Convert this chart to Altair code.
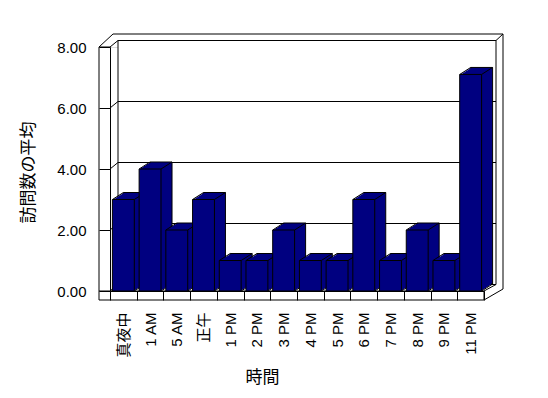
import altair as alt
import pandas as pd

# ---- data ----
categories = ["真夜中", "1 AM", "5 AM", "正午", "1 PM", "2 PM", "3 PM", "4 PM",
              "5 PM", "6 PM", "7 PM", "8 PM", "9 PM", "11 PM"]
values = [3, 4, 2, 3, 1, 1, 2, 1, 1, 3, 1, 2, 1, 7.1]
y_ticks = [0, 2, 4, 6, 8]

df = pd.DataFrame({"時間": categories, "訪問数の平均": values})
grid_df = pd.DataFrame({"訪問数の平均": y_ticks})
one = pd.DataFrame({"a": [0]})

# ---- layout / style ----
W, H = 374, 244
NAVY = "#000080"
FONT = "Liberation Sans, Noto Sans CJK JP"
BAND = 0.82
STEP = W / len(categories)
HW = BAND * STEP / 2
DX, DY = 11, 7          # bar depth
WX, WY = 8, 6.5         # wall depth
WALL = 11               # left wall thickness
FLOOR = 9               # floor slab thickness

x_scale = alt.Scale(paddingInner=0, paddingOuter=0)
y_scale = alt.Scale(domain=[0, 8], nice=False)

x_axis = alt.Axis(tickBand="extent", tickSize=FLOOR, tickColor="black",
                  domainColor="black", labelAngle=270, labelAlign="right",
                  labelBaseline="middle", labelPadding=12, labelFontSize=15,
                  labelFont=FONT, labelColor="black", title="時間",
                  titleFontSize=17, titleFont=FONT, titleFontWeight="normal",
                  titleColor="black", titleX=152, titleY=86,
                  titleAlign="center", titleBaseline="middle", grid=False)
y_axis = alt.Axis(values=y_ticks, format=".2f", tickSize=WALL, tickColor="black",
                  domainColor="black", labelPadding=13, labelFontSize=15,
                  labelFont=FONT, labelColor="black", title="訪問数の平均",
                  titleFontSize=17, titleFont=FONT, titleFontWeight="normal",
                  titleColor="black", titleAngle=270, titleX=-82, titleY=125,
                  titleAlign="center", titleBaseline="middle", grid=False)


def X():
    return alt.X("時間:N", sort=categories, scale=x_scale, axis=x_axis)


def Y():
    return alt.Y("訪問数の平均:Q", scale=y_scale, axis=y_axis)


def seg(x1, y1, x2, y2):
    return alt.Chart(one).mark_rule(color="black", strokeWidth=1).encode(
        x=alt.value(x1), y=alt.value(y1), x2=alt.value(x2), y2=alt.value(y2))


layers = []

# back wall
layers.append(alt.Chart(one).mark_rect(fill="white", stroke="black", strokeWidth=1).encode(
    x=alt.value(WX), x2=alt.value(W + 12), y=alt.value(-WY), y2=alt.value(H - WY)))

# gridlines on back wall and left-wall diagonals
layers.append(alt.Chart(grid_df).mark_rule(color="black", strokeWidth=1, yOffset=-WY, y2Offset=-WY).encode(
    y=Y(), x=alt.value(WX), x2=alt.value(W + 12)))
layers.append(alt.Chart(grid_df).mark_rule(color="black", strokeWidth=1, y2Offset=-WY).encode(
    y=Y(), y2=alt.Y2("訪問数の平均:Q"), x=alt.value(0), x2=alt.value(WX)))

# outer frame
layers += [
    seg(-WALL, 0, -WALL, H + FLOOR),
    seg(-WALL, 0, 0, 0),
    seg(-WALL, 0, 3, -13),
    seg(3, -13, W + 19, -13),
    seg(W + 12, -WY, W + 19, -13),
    seg(W + 19, -13, W + 19, H - 2),
    seg(-WALL, H + FLOOR, W, H + FLOOR),
    seg(W, H + FLOOR, W + 19, H - 2),
    seg(-WALL, H, W, H),
    seg(W, H, W, H + FLOOR),
    seg(W, H, W + 12, H - WY),
]

# bars: extruded body
layers.append(alt.Chart(df).mark_bar(width=alt.RelativeBandSize(BAND), fill=NAVY, stroke="black",
                                     strokeWidth=1, xOffset=DX, x2Offset=DX,
                                     yOffset=-DY, y2Offset=-DY).encode(x=X(), y=Y()))
for k in range(6, 0, -1):
    ox, oy = DX * k / 7, -DY * k / 7
    layers.append(alt.Chart(df).mark_bar(width=alt.RelativeBandSize(BAND), fill=NAVY, strokeWidth=0,
                                         xOffset=ox, x2Offset=ox, yOffset=oy, y2Offset=oy).encode(x=X(), y=Y()))

# bar edges
for xo in (-HW, HW):
    layers.append(alt.Chart(df).mark_rule(color="black", strokeWidth=1, xOffset=xo, x2Offset=xo + DX,
                                          y2Offset=-DY).encode(
        x=X(), x2=alt.X2("時間:N"), y=Y(), y2=alt.Y2("訪問数の平均:Q")))
layers.append(alt.Chart(df).mark_rule(color="black", strokeWidth=1, xOffset=HW, x2Offset=HW + DX,
                                      y2Offset=-DY).encode(
    x=X(), x2=alt.X2("時間:N"), y=alt.Y(datum=0, scale=y_scale, axis=y_axis), y2=alt.datum(0)))

# front faces
layers.append(alt.Chart(df).mark_bar(width=alt.RelativeBandSize(BAND), fill=NAVY, stroke="black",
                                     strokeWidth=1).encode(x=X(), y=Y()))

chart = alt.layer(*layers).properties(
    width=W, height=H,
    autosize=alt.AutoSizeParams(type="none"),
    padding={"left": 102, "top": 39, "right": 56, "bottom": 99},
).configure_view(stroke=None).configure(background="white")

chart.save("out.html", embed_options={"renderer": "svg", "actions": False})
